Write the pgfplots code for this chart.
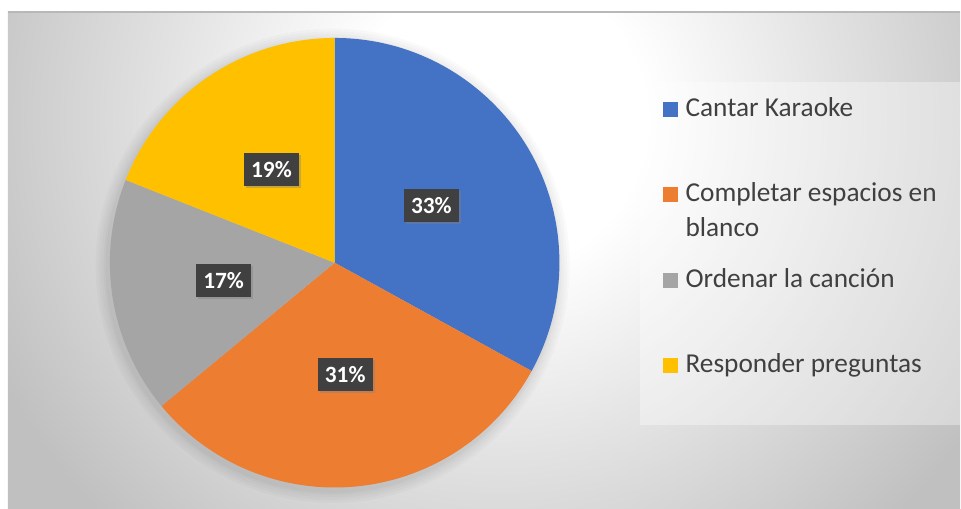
\documentclass[border=0pt]{standalone}
\usepackage{pgfplots}
\pgfplotsset{compat=1.18}
\usepackage{pgfplotstable}
\usepackage{fontspec}
\setmainfont{Carlito}
\usetikzlibrary{shadows}

\definecolor{sliceA}{HTML}{4472C4}
\definecolor{sliceB}{HTML}{ED7D31}
\definecolor{sliceC}{HTML}{A5A5A5}
\definecolor{sliceD}{HTML}{FFC000}
\definecolor{labelbg}{HTML}{404040}
\definecolor{legendtext}{HTML}{404040}
\definecolor{bgouter}{HTML}{C0C0C0}

% background glow, sizes given at their real size
\pgfdeclareradialshading{bgglow}{\pgfpoint{0bp}{0bp}}{color(0bp)=(white); color(110bp)=(white); color(420bp)=(bgouter); color(560bp)=(bgouter)}

% percentages, clockwise from 12 o'clock
\pgfplotstableread[col sep=comma]{
slice,value
Cantar Karaoke,33
Completar espacios en blanco,31
Ordenar la cancion,17
Responder preguntas,19
}\piedata

% start / stop / middle angle of every slice, taken from the table
\def\cum{0}
\newcommand\getslice[2]{%
  \pgfplotstablegetelem{#1}{value}\of\piedata
  \edef\sval{\pgfplotsretval}%
  \pgfmathsetmacro\sstart{90-3.6*\cum}%
  \pgfmathsetmacro\sstop{90-3.6*(\cum+\sval)}%
  \pgfmathsetmacro\smid{(\sstart+\sstop)/2}%
  \pgfmathsetmacro\snewcum{\cum+\sval}%
  \xdef\cum{\snewcum}%
  \expandafter\xdef\csname val#2\endcsname{\sval}%
  \expandafter\xdef\csname start#2\endcsname{\sstart}%
  \expandafter\xdef\csname stop#2\endcsname{\sstop}%
  \expandafter\xdef\csname mid#2\endcsname{\smid}%
}
\getslice{0}{A}\getslice{1}{B}\getslice{2}{C}\getslice{3}{D}

\begin{document}
\begin{tikzpicture}[
    pct/.style={fill=labelbg, text=white, inner sep=0pt,
      minimum width=41pt, minimum height=25pt,
      font=\fontsize{17.5}{21}\selectfont\bfseries,
      drop shadow={opacity=0.4, shadow xshift=1.5pt, shadow yshift=-1.5pt}},
    leg/.style={anchor=base west, inner sep=0pt, text=legendtext,
      font=\fontsize{20.5}{24}\selectfont},
  ]
\begin{axis}[
    width=720.75pt, height=381.75pt, scale only axis,
    xmin=0, xmax=961, ymin=0, ymax=509,
    hide axis, clip=false,
  ]
  % chart area with its soft radial background
  \fill[white] (axis cs:0,0) rectangle (axis cs:961,509);
  \fill[bgouter] (axis cs:8,0) rectangle (axis cs:961,497);
  \begin{scope}
    \clip (axis cs:8,0) rectangle (axis cs:961,497);
    \node[overlay, inner sep=0pt, outer sep=0pt] at (axis cs:500,389) {\pgfuseshading{bgglow}};
  \end{scope}
  \draw[black!28, line width=1.5pt] (axis cs:8,496.5) -- (axis cs:961,496.5);

  % soft shadow under the pie
  \fill[black, opacity=0.018] (axis cs:333,243) circle[radius=178pt];
  \fill[black, opacity=0.018] (axis cs:333,243) circle[radius=176pt];
  \fill[black, opacity=0.02] (axis cs:333,243) circle[radius=174pt];
  \fill[black, opacity=0.022] (axis cs:333,243) circle[radius=172pt];
  \fill[black, opacity=0.025] (axis cs:333,243) circle[radius=170.5pt];

  % slices
  \fill[sliceA] (axis cs:335,246) -- ++(\startA:168.75pt) arc[start angle=\startA, end angle=\stopA, radius=168.75pt] -- cycle;
  \fill[sliceB] (axis cs:335,246) -- ++(\startB:168.75pt) arc[start angle=\startB, end angle=\stopB, radius=168.75pt] -- cycle;
  \fill[sliceC] (axis cs:335,246) -- ++(\startC:168.75pt) arc[start angle=\startC, end angle=\stopC, radius=168.75pt] -- cycle;
  \fill[sliceD] (axis cs:335,246) -- ++(\startD:168.75pt) arc[start angle=\startD, end angle=\stopD, radius=168.75pt] -- cycle;

  % percentage labels
  \path (axis cs:335,246) ++(\midA:84.4pt) node[pct] {\valA\%};
  \path (axis cs:335,246) ++(\midB:84.4pt) node[pct] {\valB\%};
  \path (axis cs:335,246) ++(\midC:84.4pt) node[pct] {\valC\%};
  \path (axis cs:335,246) ++(\midD:84.4pt) node[pct] {\valD\%};

  % legend
  \fill[white, opacity=0.35] (axis cs:641,84) rectangle (axis cs:961,427);
  \fill[sliceA] (axis cs:664,392) rectangle (axis cs:678.5,406.5);
  \node[leg] at (axis cs:686,392) {Cantar Karaoke};
  \fill[sliceB] (axis cs:664,307) rectangle (axis cs:678.5,321.5);
  \node[leg] at (axis cs:686,307) {Completar espacios en};
  \node[leg] at (axis cs:686,272) {blanco};
  \fill[sliceC] (axis cs:664,221) rectangle (axis cs:678.5,235.5);
  \node[leg] at (axis cs:686,221) {Ordenar la canción};
  \fill[sliceD] (axis cs:664,136) rectangle (axis cs:678.5,150.5);
  \node[leg] at (axis cs:686,136) {Responder preguntas};
\end{axis}
\end{tikzpicture}
\end{document}
